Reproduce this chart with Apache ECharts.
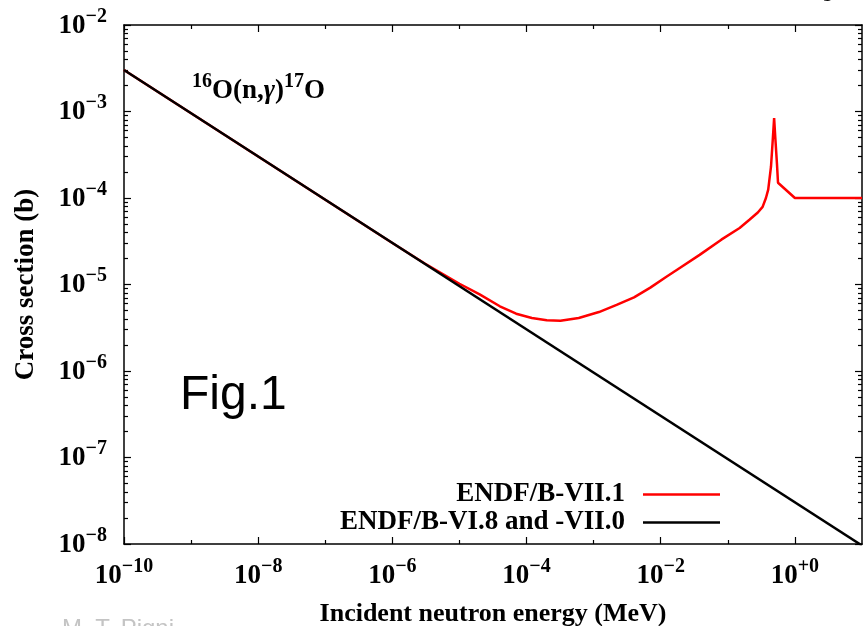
<!DOCTYPE html>
<html>
<head>
<meta charset="utf-8">
<script src="https://cdn.jsdelivr.net/npm/echarts@6/dist/echarts.min.js"></script>
<style>
  html, body { margin: 0; padding: 0; background: #fff; }
  #chart { width: 866px; height: 626px; }
</style>
</head>
<body>
<div id="chart"></div>
<script>
// ---- data (energy in MeV, cross section in b) ----
var seriesNames = ['ENDF/B-VII.1', 'ENDF/B-VI.8 and -VII.0'];

var endf71 = [
  [1e-10, 3.02e-3], [1e-8, 3.02e-4], [1e-6, 3.02e-5], [3e-6, 1.76e-5],
  [1e-5, 1.02e-5], [2e-5, 7.7e-6], [4e-5, 5.6e-6], [7e-5, 4.6e-6],
  [1.2e-4, 4.1e-6], [2e-4, 3.85e-6], [3.2e-4, 3.8e-6], [6e-4, 4.1e-6],
  [1.2e-3, 4.8e-6], [2.2e-3, 5.8e-6], [4e-3, 7.1e-6], [7e-3, 9.2e-6],
  [1.2e-2, 1.22e-5], [1.8e-2, 1.5e-5], [3.8e-2, 2.2e-5], [8e-2, 3.3e-5],
  [0.15, 4.5e-5], [0.21, 5.6e-5], [0.28, 6.8e-5], [0.33, 7.9e-5],
  [0.37, 1.0e-4], [0.40, 1.25e-4], [0.44, 2.3e-4], [0.47, 5e-4],
  [0.49, 8.4e-4], [0.51, 5e-4], [0.54, 2.5e-4], [0.56, 1.5e-4],
  [1.0, 1.0e-4], [10, 1.0e-4]
];

var endf68 = [
  [1e-10, 3.02e-3], [10, 9.6e-9]
];

// tick positions
var xMajor = [1e-10, 1e-8, 1e-6, 1e-4, 1e-2, 1];
var xMinor = [1e-9, 1e-7, 1e-5, 1e-3, 1e-1];
var yMajor = [1e-8, 1e-7, 1e-6, 1e-5, 1e-4, 1e-3, 1e-2];
var yMinor = [];
for (var d = -8; d < -2; d++) {
  for (var m = 2; m <= 9; m++) yMinor.push(m * Math.pow(10, d));
}

var serif = '"Liberation Serif", "DejaVu Serif", serif';
var sans = '"Liberation Sans", Arial, sans-serif';

function powLabel(v) {
  var n = Math.round(Math.log10(v));
  var s = n >= 0 ? '+' + n : '\u2212' + (-n);
  return '{b|10}{s|' + s + '}';
}

var labelRich = {
  b: { fontFamily: serif, fontWeight: 'bold', fontSize: 27, color: '#000', padding: [6, 0, 4, 0], verticalAlign: 'middle' },
  s: { fontFamily: serif, fontWeight: 'bold', fontSize: 20, color: '#000', verticalAlign: 'top' }
};

var axisLineStyle = { color: '#000', width: 1.5 };

function xAxisDef(pos, ticks, len, showLine, withLabel) {
  var ax = {
    type: 'log', logBase: 10, min: 1e-10, max: 10, position: pos,
    axisLine: { show: showLine, onZero: false, lineStyle: axisLineStyle },
    axisTick: { show: true, inside: true, length: len, customValues: ticks, lineStyle: { color: '#000', width: 1.2 } },
    axisLabel: { show: false },
    splitLine: { show: false },
    minorTick: { show: false }
  };
  if (withLabel) {
    ax.axisLabel = { show: true, customValues: xMajor, margin: 13, formatter: powLabel, rich: labelRich };
    ax.name = 'Incident neutron energy (MeV)';
    ax.nameLocation = 'middle';
    ax.nameGap = 57;
    ax.nameTextStyle = { fontFamily: serif, fontWeight: 'bold', fontSize: 26, color: '#000' };
  }
  return ax;
}

function yAxisDef(pos, ticks, len, showLine, withLabel) {
  var ax = {
    type: 'log', logBase: 10, min: 1e-8, max: 1e-2, position: pos,
    axisLine: { show: showLine, onZero: false, lineStyle: axisLineStyle },
    axisTick: { show: true, inside: true, length: len, customValues: ticks, lineStyle: { color: '#000', width: 1.2 } },
    axisLabel: { show: false },
    splitLine: { show: false },
    minorTick: { show: false }
  };
  if (withLabel) {
    ax.axisLabel = { show: true, customValues: yMajor, margin: 17, formatter: powLabel, rich: labelRich };
    ax.name = 'Cross section (b)';
    ax.nameLocation = 'middle';
    ax.nameGap = 84;
    ax.nameTextStyle = { fontFamily: serif, fontWeight: 'bold', fontSize: 27, color: '#000' };
  }
  return ax;
}

var legendText = { fontFamily: serif, fontWeight: 'bold', fontSize: 27, color: '#000', padding: [0, 13, 0, 0] };

var chart = echarts.init(document.getElementById('chart'), null, { renderer: 'canvas' });

chart.setOption({
  animation: false,
  backgroundColor: '#fff',
  grid: { left: 124, right: 4, top: 25, bottom: 82, containLabel: false, outerBoundsMode: 'none' },
  xAxis: [
    xAxisDef('bottom', xMajor, 7, true, true),
    xAxisDef('bottom', xMinor, 4, false, false),
    xAxisDef('top', xMajor, 7, true, false),
    xAxisDef('top', xMinor, 4, false, false)
  ],
  yAxis: [
    yAxisDef('left', yMajor, 7, true, true),
    yAxisDef('left', yMinor, 4, false, false),
    yAxisDef('right', yMajor, 7, true, false),
    yAxisDef('right', yMinor, 4, false, false)
  ],
  legend: [
    {
      data: [{ name: seriesNames[0] }], right: 146, top: 481, padding: 0,
      align: 'right', icon: 'rect', itemWidth: 77, itemHeight: 2.5,
      formatter: '{a|{name}}', textStyle: { rich: { a: legendText } }
    },
    {
      data: [{ name: seriesNames[1] }], right: 146, top: 509, padding: 0,
      align: 'right', icon: 'rect', itemWidth: 77, itemHeight: 2.5,
      formatter: '{a|{name}}', textStyle: { rich: { a: legendText } }
    }
  ],
  series: [
    {
      name: seriesNames[0], type: 'line', data: endf71, showSymbol: false,
      lineStyle: { color: '#ff0000', width: 2.5 }, itemStyle: { color: '#ff0000' }
    },
    {
      name: seriesNames[1], type: 'line', data: endf68, showSymbol: false,
      lineStyle: { color: '#000000', width: 2.5 }, itemStyle: { color: '#000000' }
    }
  ],
  graphic: [
    {
      type: 'text', left: 192, top: 72,
      style: {
        text: '{s|16}{b|O(n,}{i|\u03b3}{b|)}{s|17}{b|O}',
        rich: {
          b: { fontFamily: serif, fontWeight: 'bold', fontSize: 27, color: '#000', padding: [6, 0, 0, 0], verticalAlign: 'bottom' },
          i: { fontFamily: serif, fontWeight: 'bold', fontStyle: 'italic', fontSize: 27, color: '#000', padding: [6, 0, 0, 0], verticalAlign: 'bottom' },
          s: { fontFamily: serif, fontWeight: 'bold', fontSize: 20, color: '#000', verticalAlign: 'top' }
        }
      }
    },
    {
      type: 'text', x: 180, y: 396,
      style: { text: 'Fig.1', font: '48px ' + sans, fill: '#000', verticalAlign: 'middle' }
    },
    {
      type: 'text', x: 62, y: 629,
      style: { text: 'M. T. Pigni', font: '24px ' + sans, fill: '#c4c4c4', verticalAlign: 'middle' }
    },
    {
      type: 'text', x: 834, y: -19,
      style: { text: 'y', font: 'bold 44px ' + serif, fill: '#000', align: 'center', verticalAlign: 'middle' }
    }
  ]
});
</script>
</body>
</html>
